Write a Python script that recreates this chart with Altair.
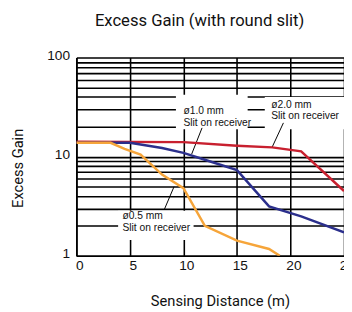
import altair as alt
import pandas as pd

# ---- data ----
red_x = [0, 10, 15, 18.3, 21, 25]
red_y = [14.1, 14.0, 12.9, 12.4, 11.3, 4.5]

blue_x = [0, 5, 8, 10, 12, 15, 18, 21, 25]
blue_y = [13.8, 13.8, 12.2, 10.9, 9.3, 7.3, 3.15, 2.5, 1.72]

orange_x = [0, 3.2, 4.5, 6, 8, 10, 12, 15, 18, 19]
orange_y = [13.8, 13.8, 12.0, 10.5, 6.6, 4.8, 2.0, 1.42, 1.17, 1.0]

series_names = ["ø2.0 mm", "ø1.0 mm", "ø0.5 mm"]
series_colors = ["#c8202f", "#2b2f8c", "#f6a53a"]

x_ticks = [0, 5, 10, 15, 20, 25]
y_ticks = [1, 2, 3, 4, 5, 6, 7, 8, 9, 10, 20, 30, 40, 50, 60, 70, 80, 90, 100]
y_labels = [1, 10, 100]

# annotation text (line 1, line 2) and their anchors in data units
ann_line1 = ["ø1.0 mm", "ø2.0 mm", "ø0.5 mm"]
ann_line2 = ["Slit on receiver", "Slit on receiver", "Slit on receiver"]
ann_x = [10.0, 18.2, 4.3]
ann_y1 = [28.5, 33.5, 2.49]
ann_y2 = [21.7, 25.5, 1.89]

# white boxes behind annotations
box_x = [9.3, 17.6, 3.9]
box_x2 = [16.0, 25.0, 10.95]
box_y = [18.9, 18.9, 1.44]
box_y2 = [42.0, 40.0, 2.85]

# leader lines
lead_x = [11.74, 19.34, 9.12]
lead_y = [19.5, 21.9, 4.97]
lead_x2 = [10.77, 18.28, 8.21]
lead_y2 = [10.6, 12.4, 2.92]

# ---- tables ----
rows = []
for name, xs, ys in [(series_names[0], red_x, red_y),
                     (series_names[1], blue_x, blue_y),
                     (series_names[2], orange_x, orange_y)]:
    for i, (a, b) in enumerate(zip(xs, ys)):
        rows.append({"series": name, "d": a, "g": b, "o": i})
curves = pd.DataFrame(rows)

texts = pd.DataFrame({
    "x": ann_x * 2,
    "y": ann_y1 + ann_y2,
    "t": ann_line1 + ann_line2,
})
boxes = pd.DataFrame({"x": box_x, "x2": box_x2, "y": box_y, "y2": box_y2})
leads = pd.DataFrame({"x": lead_x, "x2": lead_x2, "y": lead_y, "y2": lead_y2})

xscale = alt.Scale(domain=[0, 25], nice=False, zero=False)
yscale = alt.Scale(type="log", domain=[1, 100], nice=False)

TFONT = "Roboto"

xaxis = alt.Axis(
    values=x_ticks, grid=True, gridColor="#000", gridWidth=1.6, gridOpacity=1,
    ticks=False, domain=True, domainColor="#000", domainWidth=1.6,
    labelFont="Liberation Sans", labelFontSize=14, labelColor="#111",
    labelPadding=3, labelOffset=3, labelFlush=False,
    title="Sensing Distance (m)", titleFont=TFONT,
    titleFontSize=15, titleFontWeight="normal", titleColor="#111",
    titleX=147, titleY=46, titleBaseline="middle",
)
yaxis = alt.Axis(
    values=y_ticks, grid=True, gridColor="#000", gridWidth=1.6, gridOpacity=1,
    ticks=False, domain=True, domainColor="#000", domainWidth=1.6,
    labelExpr="(datum.value == 1 || datum.value == 10 || datum.value == 100) ? format(datum.value, 'd') : ''",
    labelFont="Liberation Sans", labelFontSize=14, labelColor="#111",
    labelPadding=7, labelOffset=-2, labelFlush=False,
    title="Excess Gain", titleFont=TFONT,
    titleFontSize=15, titleFontWeight="normal", titleColor="#111",
    titleX=-60, titleY=113, titleBaseline="middle",
)

base = alt.Chart(curves)

lines = base.mark_line(strokeWidth=2.5, clip=True).encode(
    x=alt.X("d:Q", scale=xscale, axis=xaxis),
    y=alt.Y("g:Q", scale=yscale, axis=yaxis),
    color=alt.Color("series:N", scale=alt.Scale(domain=series_names, range=series_colors), legend=None),
    order="o:Q",
)

rects = alt.Chart(boxes).mark_rect(fill="white").encode(
    x=alt.X("x:Q", scale=xscale), x2="x2:Q",
    y=alt.Y("y:Q", scale=yscale), y2="y2:Q",
)

rules = alt.Chart(leads).mark_rule(color="#000", strokeWidth=1).encode(
    x=alt.X("x:Q", scale=xscale), x2="x2:Q",
    y=alt.Y("y:Q", scale=yscale), y2="y2:Q",
)

labels = alt.Chart(texts).mark_text(
    align="left", baseline="middle", font="Liberation Sans", fontSize=10.5, color="#111"
).encode(
    x=alt.X("x:Q", scale=xscale),
    y=alt.Y("y:Q", scale=yscale),
    text="t:N",
)

chart = alt.layer(rects, rules, lines, labels).properties(
    width=274, height=203,
    autosize=alt.AutoSizeParams(type="none"),
    padding={"left": 70, "top": 47, "right": 0, "bottom": 58},
    title=alt.TitleParams(
        "Excess Gain (with round slit)", font=TFONT, fontSize=17,
        fontWeight="normal", color="#111", anchor="start", frame="group",
        dx=19, offset=6, baseline="alphabetic",
    ),
).configure_view(stroke=None)

chart.save("out.html", embed_options={"renderer": "svg", "actions": False})
